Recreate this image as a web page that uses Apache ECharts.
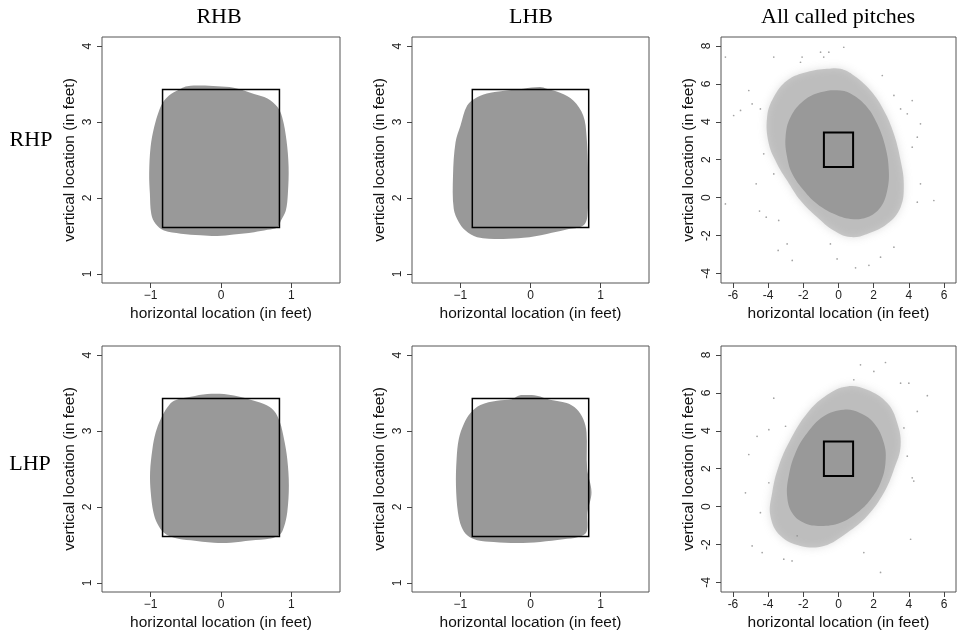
<!DOCTYPE html>
<html>
<head>
<meta charset="utf-8">
<script src="https://cdn.jsdelivr.net/npm/echarts@6/dist/echarts.min.js"></script>
<style>
html,body{margin:0;padding:0;background:#fff;}
#c{width:961px;height:636px;}
</style>
</head>
<body>
<div id="c"></div>
<script>
// ---- Labels ----
const colTitles = ['RHB', 'LHB', 'All called pitches'];
const rowTitles = ['RHP', 'LHP'];
const xName = 'horizontal location (in feet)';
const yName = 'vertical location (in feet)';

// ---- Tick labels ----
const xTicksZone = [-1, 0, 1];
const yTicksZone = [1, 2, 3, 4];
const xTicksAll = [-6, -4, -2, 0, 2, 4, 6];
const yTicksAll = [-4, -2, 0, 2, 4, 6, 8];

// ---- Rulebook strike zone (feet) ----
const zoneX = [-0.83, 0.83];
const zoneY = [1.61, 3.43];

// ---- Called-strike regions (boundary, feet) ----
const blobRHP_RHB = [[-0.81,3.28],[-0.71,3.37],[-0.57,3.44],[-0.48,3.47],[-0.29,3.48],[-0.05,3.47],[0.18,3.45],[0.47,3.37],[0.66,3.31],[0.80,3.20],[0.87,3.06],[0.93,2.76],[0.96,2.41],[0.95,2.06],[0.92,1.83],[0.85,1.70],[0.80,1.61],[0.66,1.58],[0.47,1.55],[0.18,1.52],[-0.05,1.50],[-0.29,1.51],[-0.57,1.53],[-0.81,1.57],[-0.93,1.66],[-0.99,1.79],[-1.01,2.06],[-1.02,2.32],[-1.00,2.67],[-0.95,2.93],[-0.88,3.15]];
const blobRHP_LHB = [[0.137,3.46],[-0.10,3.44],[-0.336,3.416],[-0.572,3.386],[-0.761,3.328],[-0.903,3.218],[-0.998,2.955],[-1.069,2.735],[-1.105,2.296],[-1.095,1.857],[-1.022,1.68],[-0.927,1.571],[-0.761,1.483],[-0.43,1.461],[-0.10,1.475],[0.232,1.527],[0.516,1.584],[0.752,1.637],[0.813,1.769],[0.822,2.296],[0.799,2.823],[0.752,3.087],[0.61,3.284],[0.421,3.386],[0.232,3.438]];
const blobLHP_RHB = [[0.042,3.488],[-0.194,3.488],[-0.43,3.452],[-0.667,3.40],[-0.761,3.312],[-0.856,3.159],[-0.927,2.983],[-0.974,2.765],[-1.007,2.458],[-0.998,2.195],[-0.96,1.932],[-0.903,1.78],[-0.809,1.66],[-0.667,1.596],[-0.43,1.561],[-0.10,1.53],[0.137,1.53],[0.421,1.557],[0.704,1.583],[0.837,1.636],[0.894,1.736],[0.941,1.932],[0.964,2.283],[0.941,2.633],[0.894,2.897],[0.837,3.115],[0.752,3.268],[0.61,3.356],[0.421,3.413],[0.232,3.457]];
const blobLHP_LHB = [[-0.10,3.475],[0.09,3.466],[0.279,3.413],[0.516,3.37],[0.657,3.291],[0.752,3.159],[0.799,2.983],[0.808,2.503],[0.87,2.195],[0.813,1.932],[0.799,1.67],[0.681,1.604],[0.468,1.574],[0.137,1.539],[-0.194,1.526],[-0.525,1.539],[-0.761,1.561],[-0.903,1.626],[-0.983,1.736],[-1.035,1.932],[-1.063,2.283],[-1.054,2.633],[-1.022,2.897],[-0.951,3.094],[-0.856,3.239],[-0.714,3.344],[-0.478,3.40],[-0.265,3.42],[-0.171,3.466]];

// ---- All called pitches: dense core, fringe and stray pitches (feet) ----
const coreRHP = [[-1.02,5.56],[0.11,5.65],[0.87,5.39],[1.63,4.77],[2.20,3.89],[2.67,2.66],[2.86,1.43],[2.77,0.38],[2.39,-0.50],[1.63,-1.03],[0.68,-1.12],[-0.27,-0.85],[-1.21,-0.33],[-1.97,0.38],[-2.63,1.26],[-2.92,2.13],[-3.01,3.19],[-2.73,4.24],[-1.97,5.12]];
const fringeRHP = [[-0.64,6.79],[-1.78,6.62],[-2.92,6.18],[-3.68,5.30],[-4.06,4.24],[-3.96,2.84],[-3.49,1.78],[-2.92,0.91],[-2.16,-0.15],[-1.21,-1.03],[-0.27,-1.73],[0.68,-2.08],[1.63,-1.91],[2.77,-1.38],[3.53,-0.50],[3.71,0.73],[3.53,1.96],[3.15,3.36],[2.58,4.60],[1.82,5.65],[0.87,6.44],[0.11,6.79]];
const strayRHP = [[-6.43,7.41],[-3.68,7.41],[-2.16,7.14],[-1.02,7.67],[-0.55,7.67],[0.30,7.93],[-2.07,7.41],[-0.84,7.41],[-5.10,5.65],[-5.57,4.60],[-4.44,4.68],[-5.96,4.33],[-6.43,-0.33],[-4.68,0.73],[-4.49,-0.71],[-4.11,-1.03],[-3.40,-1.20],[-3.43,-2.78],[-2.63,-3.31],[-0.08,-3.23],[0.97,-3.70],[1.73,-3.57],[2.39,-3.14],[3.15,-2.61],[4.48,-0.24],[5.42,-0.15],[4.66,0.73],[4.19,2.66],[4.48,3.19],[4.66,3.89],[4.19,5.12],[3.15,5.39],[2.49,6.44],[3.53,4.68],[3.91,4.42],[-3.68,1.25],[-4.25,2.31],[-4.91,4.94],[-2.92,-2.44],[-0.46,-2.44]];
const coreLHP = [[0.30,5.11],[1.25,4.93],[2.01,4.41],[2.58,3.36],[2.67,2.31],[2.39,1.26],[1.82,0.38],[1.06,-0.32],[0.11,-0.85],[-1.02,-1.02],[-1.97,-0.85],[-2.64,-0.32],[-2.92,0.56],[-2.83,1.61],[-2.45,2.83],[-1.78,3.88],[-0.84,4.76]];
const fringeLHP = [[0.49,6.34],[1.63,6.16],[2.77,5.46],[3.34,4.41],[3.53,3.18],[3.15,1.96],[2.58,0.73],[1.63,-0.49],[0.49,-1.37],[-0.84,-2.07],[-2.16,-2.07],[-3.30,-1.54],[-3.87,-0.49],[-3.77,0.73],[-3.40,2.13],[-2.73,3.54],[-1.78,4.93],[-0.64,5.90]];
const strayLHP = [[2.67,7.60],[2.01,7.13],[1.25,7.48],[3.53,6.51],[4.00,6.51],[5.05,5.85],[4.48,5.02],[-3.68,5.72],[-3.96,4.06],[-4.63,3.71],[-5.10,2.75],[-5.29,0.73],[-4.91,-2.07],[-4.34,-2.42],[-3.11,-2.77],[-2.64,-2.86],[1.44,-2.42],[2.39,-3.47],[4.10,-1.72],[4.19,1.52],[4.28,1.35],[3.91,2.66],[3.72,4.15],[-3.01,4.24],[0.87,6.69],[-2.35,-1.54],[-4.44,-0.32],[-3.96,1.26]];

// ---- layout ----
const grids = [
  {left:102, top:37, width:238, height:246},
  {left:412, top:37, width:237, height:246},
  {left:721, top:37, width:235, height:246},
  {left:102, top:346, width:238, height:246},
  {left:412, top:346, width:237, height:246},
  {left:721, top:346, width:235, height:246}
];
const GRAY = '#999999';
const sans = '"Liberation Sans", Arial, sans-serif';
const serif = '"Liberation Serif", "Times New Roman", serif';

function fmtMinus(v){ return v < 0 ? '\u2212' + Math.abs(v) : String(v); }
function fmtHyphen(v){ return String(v); }

function mkX(i, isAll){
  return {
    gridIndex:i, type:'value', position:'bottom',
    min: isAll ? -6.68 : -1.69, max: isAll ? 6.68 : 1.69,
    axisLine:{show:false, onZero:false}, splitLine:{show:false},
    axisTick:{show:true, length:5, customValues: isAll ? xTicksAll : xTicksZone, lineStyle:{color:'#444', width:1}},
    axisLabel:{customValues: isAll ? xTicksAll : xTicksZone, formatter: isAll ? fmtHyphen : fmtMinus,
      fontSize:12, fontFamily:sans, color:'#222', margin:7},
    name:xName, nameLocation:'middle', nameGap:23,
    nameTextStyle:{fontSize:15.5, fontFamily:sans, color:'#111'}
  };
}
function mkY(i, isAll){
  return {
    gridIndex:i, type:'value', position:'left',
    min: isAll ? -4.5 : 0.88, max: isAll ? 8.47 : 4.12,
    axisLine:{show:false, onZero:false}, splitLine:{show:false},
    axisTick:{show:true, length:5, customValues: isAll ? yTicksAll : yTicksZone, lineStyle:{color:'#444', width:1}},
    axisLabel:{customValues: isAll ? yTicksAll : yTicksZone, formatter: isAll ? fmtHyphen : fmtMinus,
      fontSize:12, fontFamily:sans, color:'#222', margin:8, rotate:90},
    name:yName, nameLocation:'middle', nameGap:24,
    nameTextStyle:{fontSize:15.5, fontFamily:sans, color:'#111'}
  };
}

function polySeries(i, pts, fill, opacity, smooth, z, blur){
  return {
    type:'custom', xAxisIndex:i, yAxisIndex:i, data:[0], silent:true, clip:true, z:z,
    renderItem:function(params, api){
      const style = {fill:fill, opacity:opacity, stroke:'none'};
      if (blur) { style.shadowBlur = blur; style.shadowColor = 'rgba(153,153,153,0.6)'; }
      return {type:'polygon', shape:{points: pts.map(p => api.coord(p)), smooth: smooth}, style:style};
    }
  };
}
function zoneSeries(i, lw){
  return {
    type:'custom', xAxisIndex:i, yAxisIndex:i, data:[0], silent:true, z:10,
    renderItem:function(params, api){
      const pts = [[zoneX[0],zoneY[0]],[zoneX[1],zoneY[0]],[zoneX[1],zoneY[1]],[zoneX[0],zoneY[1]]].map(p=>api.coord(p));
      return {type:'polygon', shape:{points:pts}, style:{fill:'none', stroke:'#000', lineWidth:lw}};
    }
  };
}
function straySeries(i, pts){
  return {type:'scatter', xAxisIndex:i, yAxisIndex:i, data:pts, symbol:'circle', symbolSize:1.7,
    itemStyle:{color:'#8c8c8c'}, silent:true, z:3};
}

const series = [
  polySeries(0, blobRHP_RHB, GRAY, 1, 0.35, 2), zoneSeries(0, 1.5),
  polySeries(1, blobRHP_LHB, GRAY, 1, 0.35, 2), zoneSeries(1, 1.5),
  polySeries(2, fringeRHP, GRAY, 0.5, 0.4, 1, 8), polySeries(2, coreRHP, GRAY, 1, 0.4, 2), straySeries(2, strayRHP), zoneSeries(2, 2),
  polySeries(3, blobLHP_RHB, GRAY, 1, 0.35, 2), zoneSeries(3, 1.5),
  polySeries(4, blobLHP_LHB, GRAY, 1, 0.35, 2), zoneSeries(4, 1.5),
  polySeries(5, fringeLHP, GRAY, 0.5, 0.4, 1, 8), polySeries(5, coreLHP, GRAY, 1, 0.4, 2), straySeries(5, strayLHP), zoneSeries(5, 2)
];

const graphic = [
  {type:'text', x:219, y:17, style:{text:colTitles[0], font:'22px ' + serif, fill:'#000', align:'center', verticalAlign:'middle'}},
  {type:'text', x:531, y:17, style:{text:colTitles[1], font:'22px ' + serif, fill:'#000', align:'center', verticalAlign:'middle'}},
  {type:'text', x:838, y:17, style:{text:colTitles[2], font:'22px ' + serif, fill:'#000', align:'center', verticalAlign:'middle'}},
  {type:'text', x:31, y:140, style:{text:rowTitles[0], font:'22px ' + serif, fill:'#000', align:'center', verticalAlign:'middle'}},
  {type:'text', x:30, y:464, style:{text:rowTitles[1], font:'22px ' + serif, fill:'#000', align:'center', verticalAlign:'middle'}}
];

const chart = echarts.init(document.getElementById('c'), null, {renderer:'canvas'});
chart.setOption({
  animation:false,
  backgroundColor:'#fff',
  grid: grids.map(g => Object.assign({show:true, borderColor:'#555', borderWidth:1, backgroundColor:'transparent', containLabel:false, outerBoundsMode:'none'}, g)),
  xAxis: [0,1,2,3,4,5].map(i => mkX(i, i===2 || i===5)),
  yAxis: [0,1,2,3,4,5].map(i => mkY(i, i===2 || i===5)),
  graphic: graphic,
  series: series
});
</script>
</body>
</html>
